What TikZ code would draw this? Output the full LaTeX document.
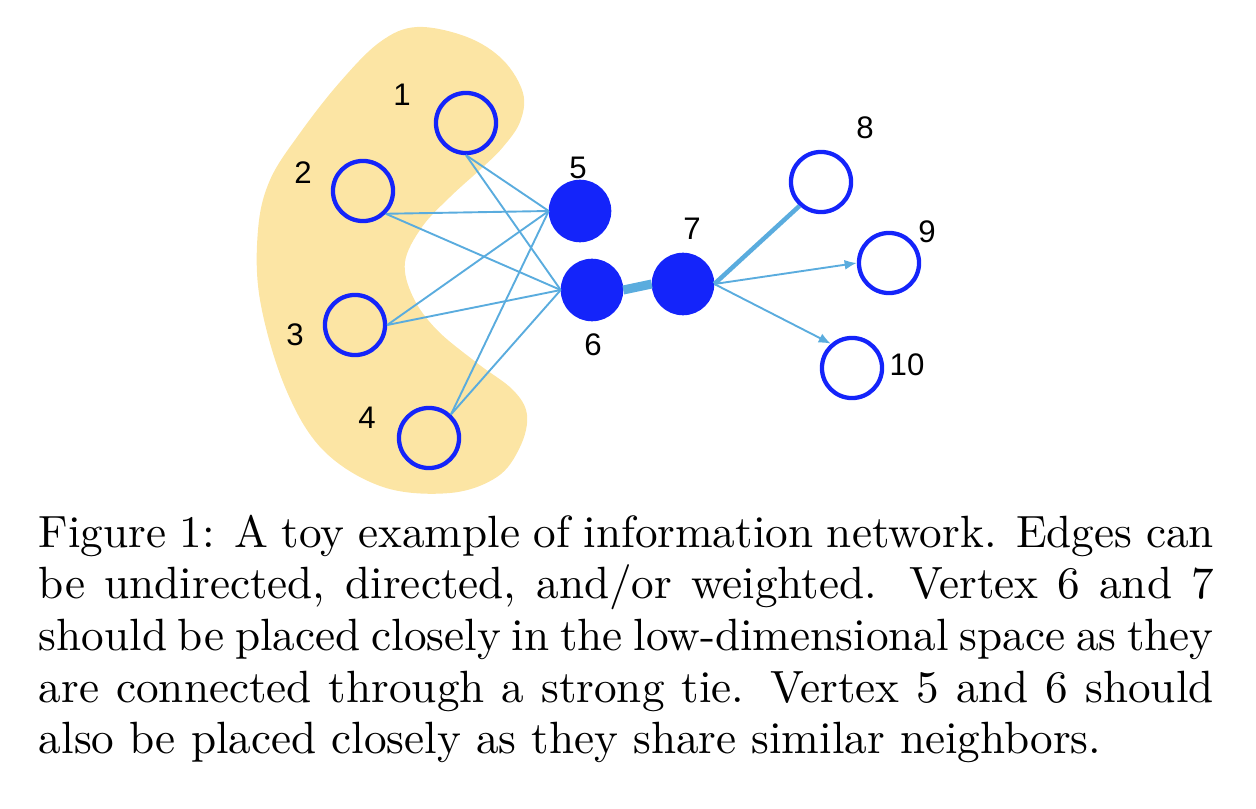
\documentclass[tikz,border=0pt]{standalone}
\usepackage{fontspec}
\newfontfamily\labfont{Liberation Sans}
\usetikzlibrary{arrows.meta}
\definecolor{nodeblue}{RGB}{20,36,250}
\definecolor{edgeblue}{RGB}{90,172,222}
\definecolor{blobyellow}{RGB}{252,229,164}
\begin{document}
\begin{tikzpicture}[x=0.2213pt,y=-0.2213pt,
  hollow/.style={circle,draw=nodeblue,line width=0.95pt,fill=none,minimum size=13.3pt,inner sep=0pt},
  solid/.style={circle,draw=nodeblue,fill=nodeblue,line width=0.95pt,minimum size=12.9pt,inner sep=0pt},
  lab/.style={font=\labfont\fontsize{6.9}{8}\selectfont,inner sep=0pt},
  thin/.style={draw=edgeblue,line width=0.42pt},
  arr/.style={draw=edgeblue,line width=0.42pt,-{Latex[length=2.7pt,width=2.2pt]}}]
\useasboundingbox (0,0) rectangle (1256,808);
% blob
\fill[blobyellow] plot[smooth cycle,tension=0.6] coordinates {
 (417,27) (467,37) (503,60) (523,93) (520,122) (503,147) (483,167) (450,197) (422,227)
 (405,262) (413,297) (437,330) (477,363) (513,390) (527,415) (520,447) (497,477)
 (450,493) (383,487) (323,450) (285,387) (260,300) (258,230) (270,180) (300,133) (340,82) (380,42)};
% nodes
\node[hollow] (n1) at (466,123) {};
\node[hollow] (n2) at (363,191) {};
\node[hollow] (n3) at (355,325) {};
\node[hollow] (n4) at (429,438) {};
\node[solid] (n5) at (580,211) {};
\node[solid] (n6) at (592,290) {};
\node[solid] (n7) at (683,284) {};
\node[hollow] (n8) at (821,182) {};
\node[hollow] (n9) at (889,263) {};
\node[hollow] (n10) at (852,368) {};
% labels
\node[lab] (l1) at (402,95) {1};
\node[lab] (l2) at (303,173) {2};
\node[lab] (l3) at (295,335) {3};
\node[lab] (l4) at (367,418) {4};
\node[lab] (l5) at (578,168) {5};
\node[lab] (l6) at (593,345) {6};
\node[lab] (l7) at (692,229) {7};
\node[lab] (l8) at (865,128) {8};
\node[lab] (l9) at (927,232) {9};
\node[lab] (l10) at (907,365) {10};
% edges
\foreach \s/\a in {n1/south,n2/-45,n3/east,n4/47}{
  \draw[thin] (\s.\a) -- (n5.west);
  \draw[thin] (\s.\a) -- (n6.west);
}
\draw[draw=edgeblue,line width=2pt] (n6.east) -- (n7.west);
\draw[draw=edgeblue,line width=1pt] (n7.east) -- (n8.228);
\draw[arr] (n7.east) -- (n9.west);
\draw[arr] (n7.east) -- (n10.131);
% caption
\node[anchor=base west,inner sep=0pt] (cap) at (38,547) {\parbox[t]{260pt}{\fontsize{10}{11.45}\selectfont
\hbox to 260pt{Figure 1: A toy example of information network. Edges can}
\hbox to 260pt{be undirected, directed, and/or weighted. Vertex 6 and 7}
\hbox to 260pt{should be placed closely in the low-dimensional space as they}
\hbox to 260pt{are connected through a strong tie. Vertex 5 and 6 should}
\hbox{also be placed closely as they share similar neighbors.}}};
\end{tikzpicture}
\end{document}
